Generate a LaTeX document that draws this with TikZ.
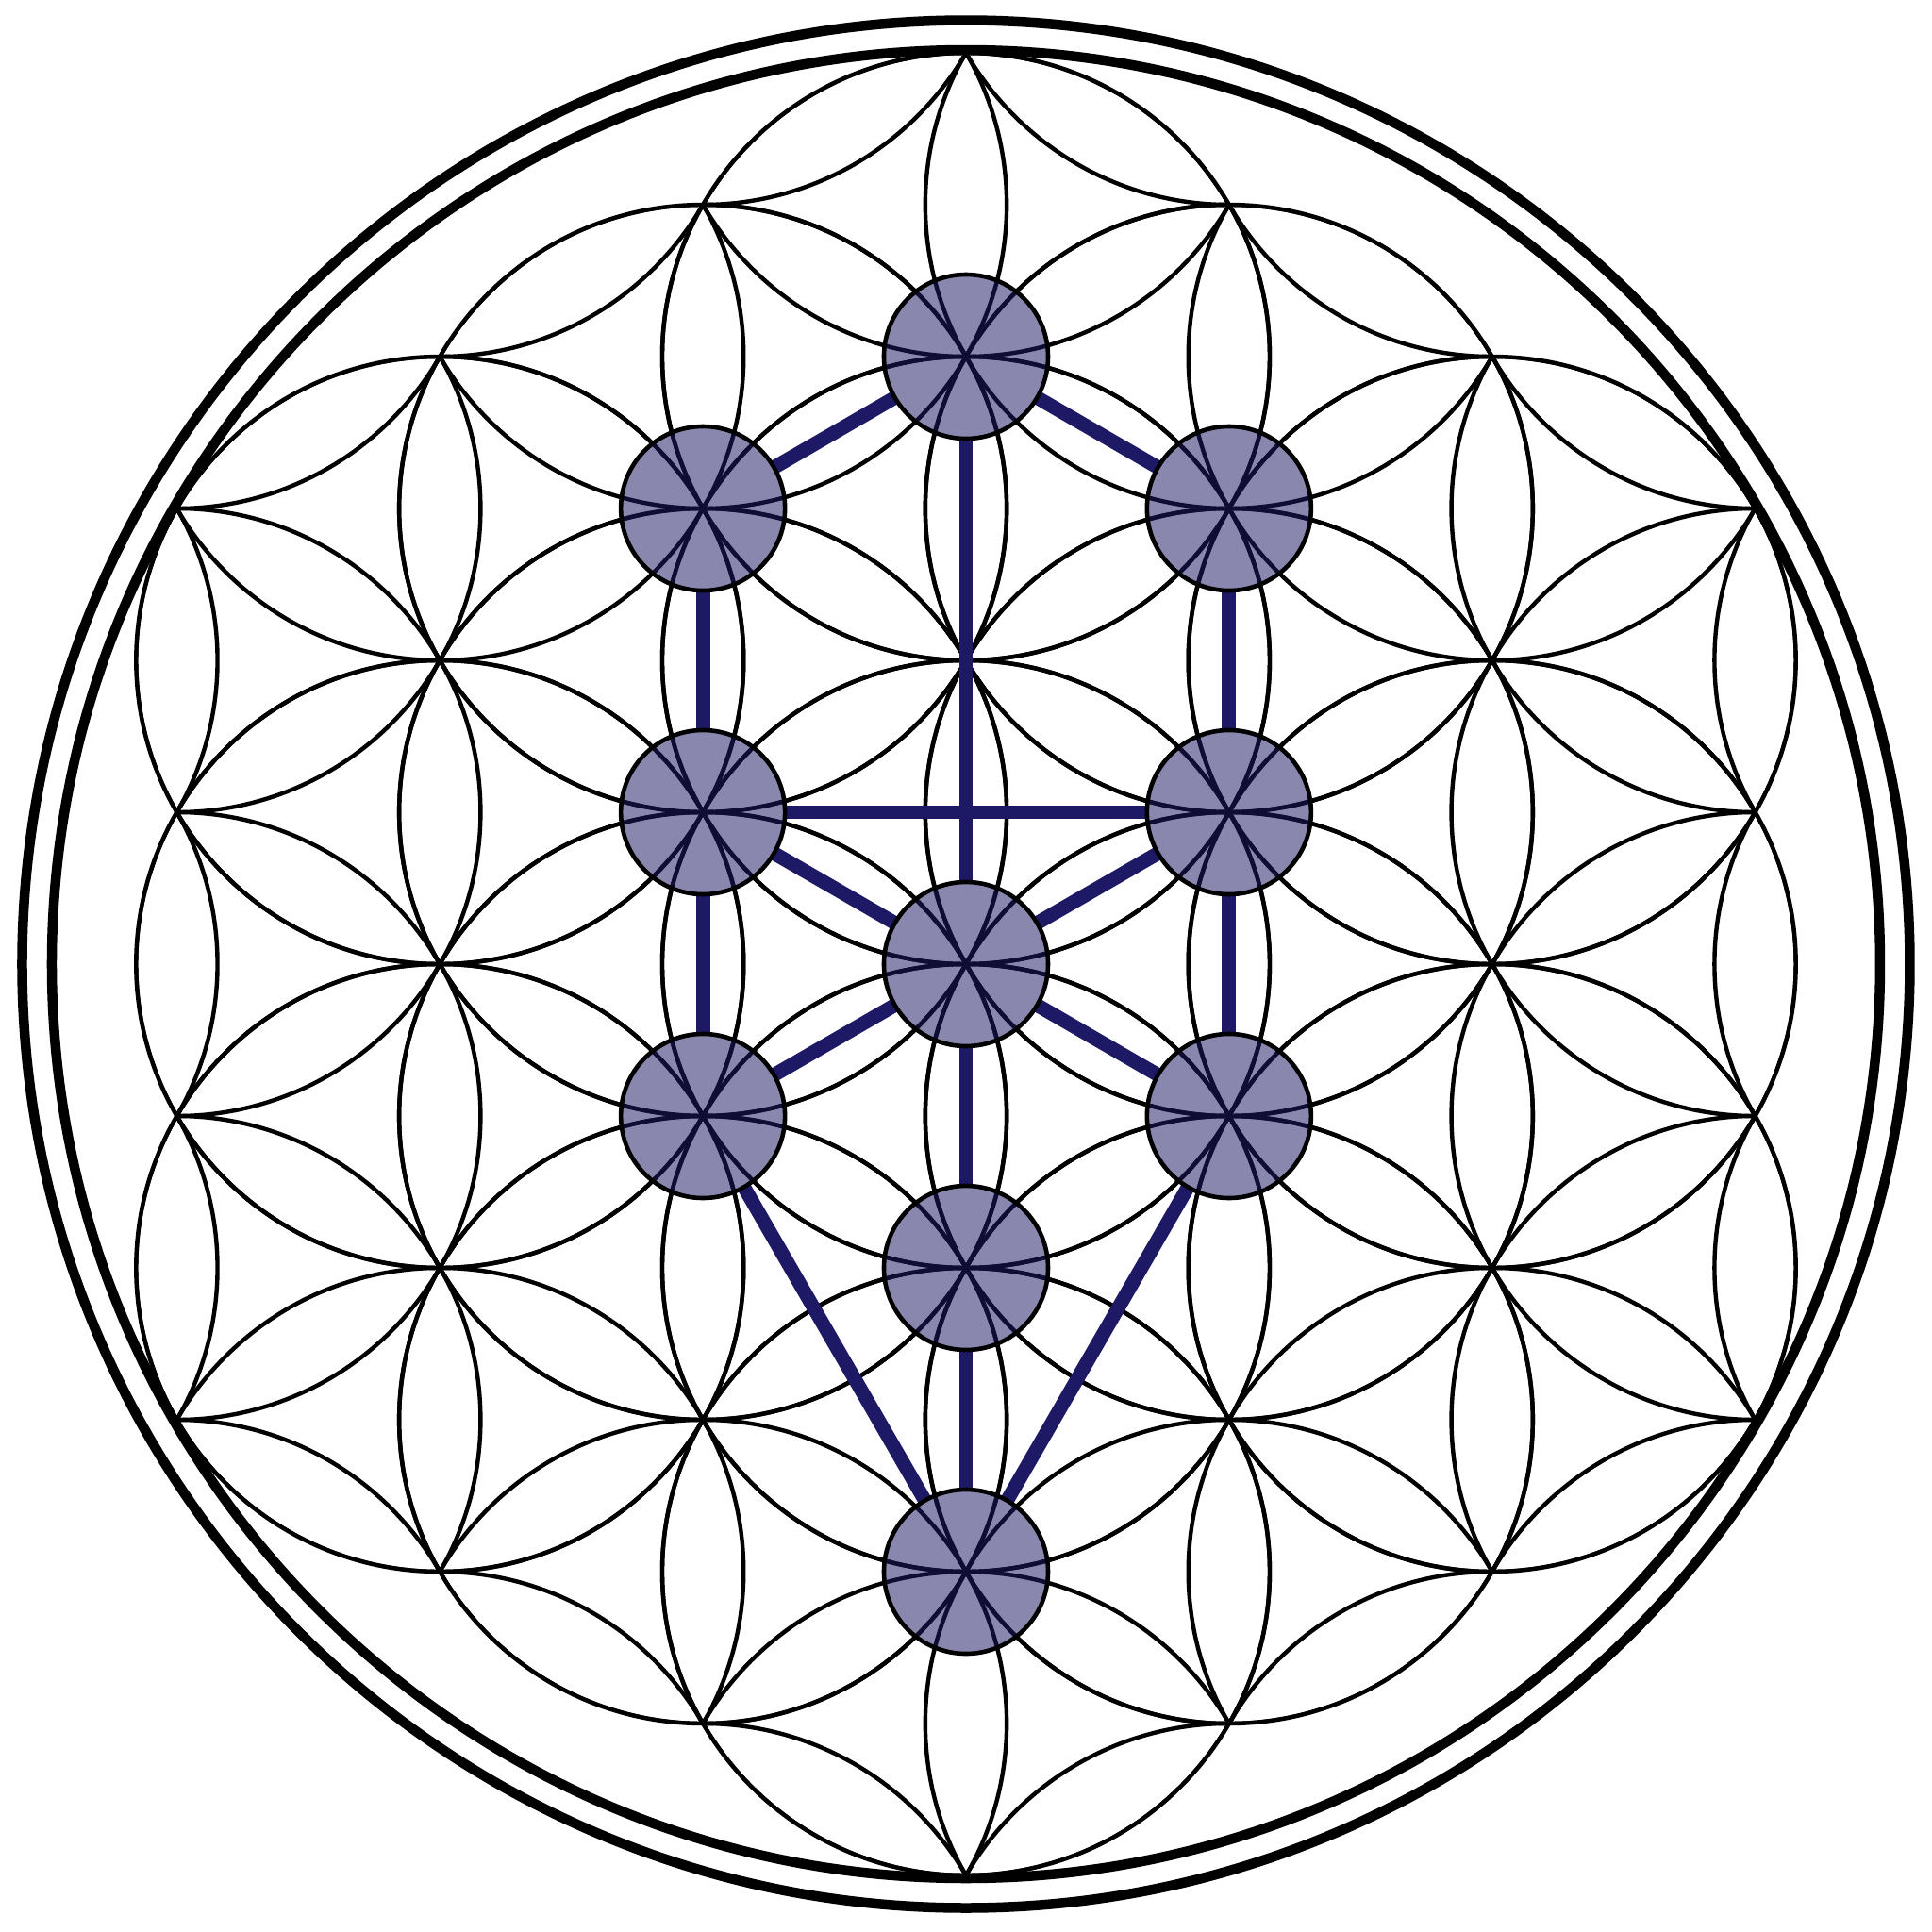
\documentclass[tikz,border=0pt]{standalone}
\definecolor{tree}{RGB}{30,25,100}
\pgfdeclarelayer{lat}
\pgfdeclarelayer{conn}
\pgfsetlayers{lat,conn,main}
\begin{document}
\begin{tikzpicture}[
  latline/.style={line width=0.044cm, black},
  ringline/.style={line width=0.105cm, black},
  sefira/.style={circle, draw=black, line width=0.046cm, fill=tree, fill opacity=0.52,
    minimum size=1.74cm, inner sep=0pt, outer sep=0pt},
  link/.style={line width=0.148cm, draw=tree}
]
\useasboundingbox (-10.24,-10.26) rectangle (10.24,10.22);
\def\R{3.22}
\def\inner{0/0,0/3.22,0/-3.22,0/6.44,0/-6.44,2.7886/1.61,2.7886/-1.61,2.7886/4.83,2.7886/-4.83,-2.7886/1.61,-2.7886/-1.61,-2.7886/4.83,-2.7886/-4.83,5.5772/0,5.5772/3.22,5.5772/-3.22,-5.5772/0,-5.5772/3.22,-5.5772/-3.22}
\begin{pgfonlayer}{lat}
  \begin{scope}
    \clip \foreach \x/\y in \inner { (\x,\y) circle (\R) };
    \foreach \a in {-7,...,7}
      \foreach \b in {-5,...,5}
        \draw[latline] ({\b*2.7886},{\a*\R+\b*1.61}) circle (\R);
  \end{scope}
  \foreach \x/\y in \inner \draw[latline] (\x,\y) circle (\R);
  \draw[ringline] (0,0) circle (9.69);
  \draw[ringline] (0,0) circle (10.005);
\end{pgfonlayer}

\node[sefira] (kether)    at (0,6.44) {};
\node[sefira] (binah)     at (-2.7886,4.83) {};
\node[sefira] (chokmah)   at (2.7886,4.83) {};
\node[sefira] (geburah)   at (-2.7886,1.61) {};
\node[sefira] (chesed)    at (2.7886,1.61) {};
\node[sefira] (tiphareth) at (0,0) {};
\node[sefira] (hod)       at (-2.7886,-1.61) {};
\node[sefira] (netzach)   at (2.7886,-1.61) {};
\node[sefira] (yesod)     at (0,-3.22) {};
\node[sefira] (malkuth)   at (0,-6.44) {};

\begin{pgfonlayer}{conn}
  \draw[link] (kether) -- (binah);
  \draw[link] (kether) -- (chokmah);
  \draw[link] (kether) -- (tiphareth);
  \draw[link] (binah) -- (geburah);
  \draw[link] (chokmah) -- (chesed);
  \draw[link] (geburah) -- (chesed);
  \draw[link] (geburah) -- (tiphareth);
  \draw[link] (chesed) -- (tiphareth);
  \draw[link] (geburah) -- (hod);
  \draw[link] (chesed) -- (netzach);
  \draw[link] (tiphareth) -- (hod);
  \draw[link] (tiphareth) -- (netzach);
  \draw[link] (tiphareth) -- (yesod);
  \draw[link] (yesod) -- (malkuth);
  \draw[link] (hod) -- (malkuth);
  \draw[link] (netzach) -- (malkuth);
\end{pgfonlayer}
\end{tikzpicture}
\end{document}
